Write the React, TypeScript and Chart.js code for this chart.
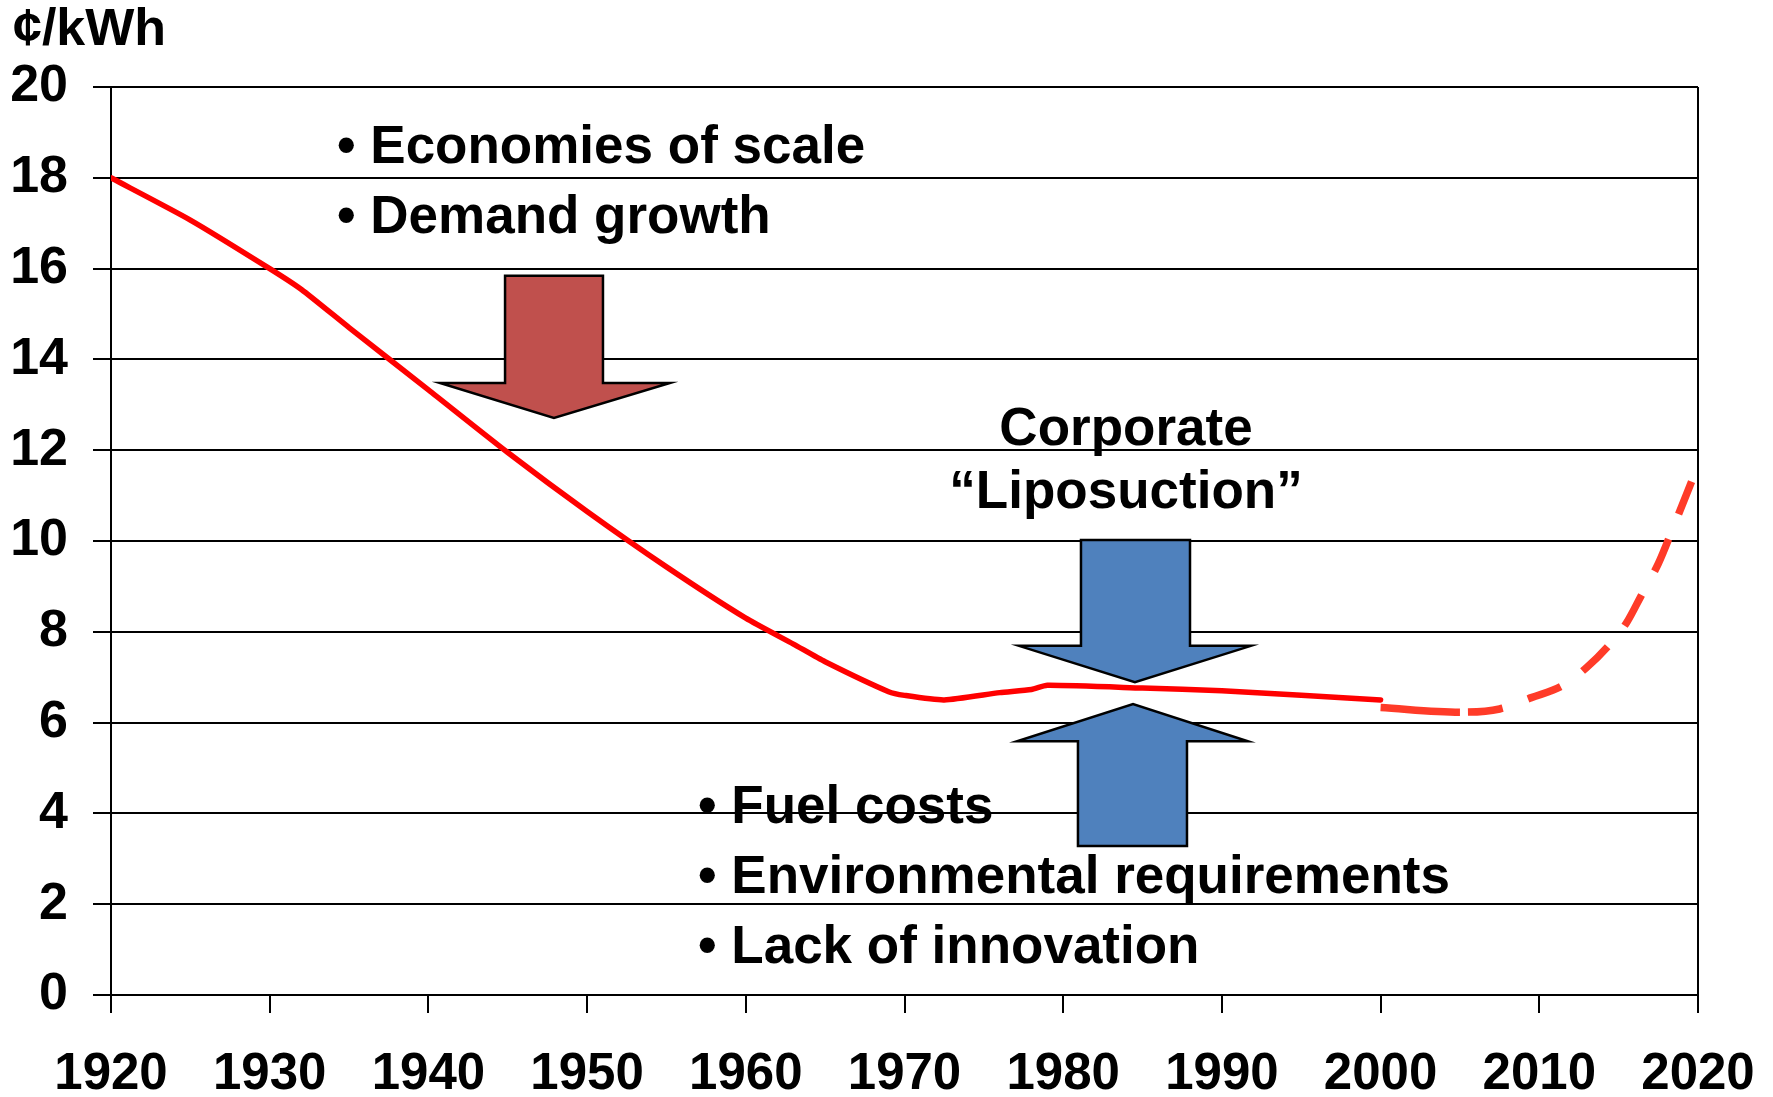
import React, { useEffect, useRef } from 'react';
import { Chart, registerables } from 'chart.js';

Chart.register(...registerables);

// ---- data ----
const historyYears = [1920, 1925, 1930, 1932, 1935, 1940, 1945, 1950, 1955, 1960, 1963, 1965, 1969, 1970, 1972.5, 1976, 1978, 1979, 1985, 1990, 2000];
const historyCents = [18.0, 17.07, 16.0, 15.54, 14.7, 13.33, 11.95, 10.65, 9.43, 8.3, 7.73, 7.34, 6.68, 6.6, 6.5, 6.66, 6.73, 6.82, 6.76, 6.7, 6.5];
const projectionYears = [2000, 2005, 2007.5, 2009.5, 2011.5, 2013, 2014.5, 2015.5, 2016.5, 2017.5, 2018.5, 2019.7];
const projectionCents = [6.33, 6.23, 6.3, 6.55, 6.82, 7.22, 7.75, 8.2, 8.85, 9.5, 10.35, 11.4];
const xTickYears = [1920, 1930, 1940, 1950, 1960, 1970, 1980, 1990, 2000, 2010, 2020];
const yTickValues = [0, 2, 4, 6, 8, 10, 12, 14, 16, 18, 20];
const yAxisUnit = '¢/kWh';

const topBullets = ['• Economies of scale', '• Demand growth'];
const middleCaption = ['Corporate', '\u201CLiposuction\u201D'];
const bottomBullets = ['• Fuel costs', '• Environmental requirements', '• Lack of innovation'];

// arrows in data coordinates (year, ¢/kWh)
const redArrow = { shaftL: 1944.83, shaftR: 1951.0, end: 15.84, wingY: 13.48, wingL: 1940.73, wingR: 1955.22, tipX: 1947.91, tipY: 12.71 };
const blueDownArrow = { shaftL: 1981.12, shaftR: 1987.99, end: 10.02, wingY: 7.69, wingL: 1977.21, wingR: 1991.83, tipX: 1984.52, tipY: 6.89 };
const blueUpArrow = { shaftL: 1980.93, shaftR: 1987.8, end: 3.28, wingY: 5.59, wingL: 1977.09, wingR: 1991.64, tipX: 1984.4, tipY: 6.41 };

const FAMILY = '"Liberation Sans", Arial, Helvetica, sans-serif';
const ANNOT_FONT = `bold 53px ${FAMILY}`;

type Arrow = typeof redArrow;

function drawArrow(ctx: CanvasRenderingContext2D, chart: any, a: Arrow, fill: string) {
  const xs = chart.scales.x;
  const ys = chart.scales.y;
  const X = (v: number) => xs.getPixelForValue(v);
  const Y = (v: number) => ys.getPixelForValue(v);
  ctx.save();
  ctx.beginPath();
  ctx.moveTo(X(a.shaftL), Y(a.end));
  ctx.lineTo(X(a.shaftR), Y(a.end));
  ctx.lineTo(X(a.shaftR), Y(a.wingY));
  ctx.lineTo(X(a.wingR), Y(a.wingY));
  ctx.lineTo(X(a.tipX), Y(a.tipY));
  ctx.lineTo(X(a.wingL), Y(a.wingY));
  ctx.lineTo(X(a.shaftL), Y(a.wingY));
  ctx.closePath();
  ctx.fillStyle = fill;
  ctx.fill();
  ctx.lineWidth = 2.5;
  ctx.lineJoin = 'miter';
  ctx.strokeStyle = '#000000';
  ctx.stroke();
  ctx.restore();
}

const overlayPlugin = {
  id: 'overlay',
  afterDatasetsDraw(chart: any) {
    const ctx = chart.ctx as CanvasRenderingContext2D;
    const { chartArea } = chart;
    // right frame line
    ctx.save();
    ctx.strokeStyle = '#000';
    ctx.lineWidth = 2;
    ctx.beginPath();
    ctx.moveTo(chartArea.right, chartArea.top);
    ctx.lineTo(chartArea.right, chartArea.bottom);
    ctx.stroke();
    ctx.restore();
    drawArrow(ctx, chart, redArrow, '#C0504D');
    drawArrow(ctx, chart, blueDownArrow, '#4F81BD');
    drawArrow(ctx, chart, blueUpArrow, '#4F81BD');
  },
  afterDraw(chart: any) {
    const ctx = chart.ctx as CanvasRenderingContext2D;
    ctx.save();
    ctx.fillStyle = '#000';
    ctx.textBaseline = 'alphabetic';
    ctx.font = `bold 52px ${FAMILY}`;
    ctx.textAlign = 'left';
    ctx.fillText(yAxisUnit, 13, 45);
    ctx.font = ANNOT_FONT;
    topBullets.forEach((t, i) => ctx.fillText(t, 337, 163 + i * 70));
    bottomBullets.forEach((t, i) => ctx.fillText(t, 698, 823 + i * 70));
    ctx.textAlign = 'center';
    middleCaption.forEach((t, i) => ctx.fillText(t, 1126, 445 + i * 63));
    ctx.restore();
  },
};

export default function App() {
  const ref = useRef<HTMLCanvasElement | null>(null);
  useEffect(() => {
    const canvas = ref.current;
    if (!canvas) return;
    const history = historyYears.map((x, i) => ({ x, y: historyCents[i] }));
    const projection = projectionYears.map((x, i) => ({ x, y: projectionCents[i] }));
    const chart = new Chart(canvas, {
      type: 'line',
      data: {
        datasets: [
          {
            label: 'History',
            data: history,
            borderColor: '#FF0000',
            borderWidth: 5.5,
            borderCapStyle: 'round',
            borderJoinStyle: 'round',
            pointRadius: 0,
            tension: 0.2,
            fill: false,
          },
          {
            label: 'Projection',
            data: projection,
            borderColor: '#FF3B28',
            borderWidth: 7.5,
            borderCapStyle: 'butt',
            pointRadius: 0,
            cubicInterpolationMode: 'monotone',
            fill: false,
            segment: {
              borderDash: (c: any) => (c.p0DataIndex === 0 ? [] : [35, 27]),
              borderDashOffset: (c: any) => (c.p0DataIndex === 0 ? 0 : 54),
            },
          } as any,
        ],
      },
      options: {
        responsive: false,
        animation: false,
        events: [],
        layout: { padding: { top: 87, right: 75, left: 0, bottom: 0 } },
        plugins: { legend: { display: false }, tooltip: { enabled: false }, title: { display: false } },
        scales: {
          x: {
            type: 'linear',
            min: 1920,
            max: 2020,
            afterBuildTicks: (scale: any) => {
              scale.ticks = xTickYears.map((v) => ({ value: v }));
            },
            afterFit: (scale: any) => {
              scale.height = 102;
              scale.paddingLeft = 0;
              scale.paddingRight = 0;
            },
            ticks: {
              autoSkip: false,
              maxRotation: 0,
              minRotation: 0,
              padding: 31,
              color: '#000',
              font: { family: FAMILY, size: 51, weight: 'bold' as const },
              callback: (v: any) => String(v),
            },
            grid: { drawOnChartArea: false, drawTicks: true, tickLength: 18, color: '#000', lineWidth: 2 },
            border: { display: true, color: '#000', width: 2 },
          },
          y: {
            type: 'linear',
            min: 0,
            max: 20,
            afterBuildTicks: (scale: any) => {
              scale.ticks = yTickValues.map((v) => ({ value: v }));
            },
            afterFit: (scale: any) => {
              scale.width = 111;
              scale.paddingTop = 0;
              scale.paddingBottom = 0;
            },
            ticks: {
              autoSkip: false,
              padding: 25,
              color: '#000',
              font: { family: FAMILY, size: 52, weight: 'bold' as const },
              callback: (v: any) => String(v),
            },
            grid: { drawOnChartArea: true, drawTicks: true, tickLength: 18, color: '#000', lineWidth: 2 },
            border: { display: true, color: '#000', width: 2 },
          },
        },
      },
      plugins: [overlayPlugin],
    });
    return () => chart.destroy();
  }, []);
  return (
    <div style={{ position: 'absolute', left: 0, top: 0, width: 1773, height: 1097, background: '#fff' }}>
      <canvas ref={ref} width={1773} height={1097} style={{ display: 'block' }} />
    </div>
  );
}
